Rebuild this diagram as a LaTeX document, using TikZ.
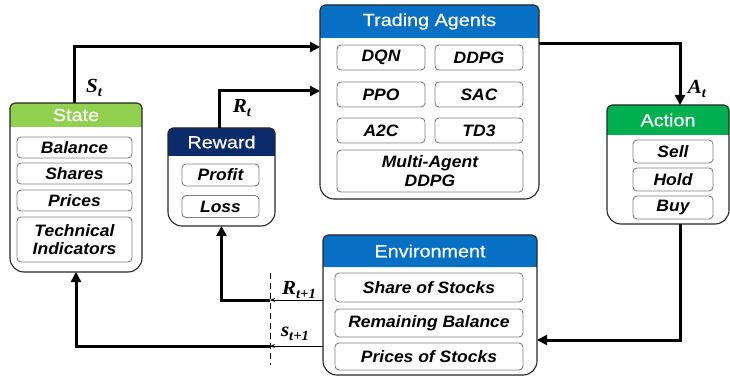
\documentclass[tikz,border=0pt]{standalone}
\usepackage{fontspec}
\usetikzlibrary{arrows.meta}
\newfontfamily\uifont{Liberation Sans}[FakeStretch=1.13,FakeBold=0.5]
\newfontfamily\itemfont{Liberation Sans}[FakeStretch=1.06]
\newfontfamily\labfont{Liberation Serif}[FakeStretch=1.05]
\newcommand{\lab}[2]{{\labfont\bfseries\itshape #1}\raisebox{-4pt}{\labfont\bfseries\itshape\fontsize{14}{14}\selectfont #2}}
\definecolor{stategreen}{HTML}{92D050}
\definecolor{rewardnavy}{HTML}{0B2A6A}
\definecolor{agentblue}{HTML}{0870C4}
\definecolor{actiongreen}{HTML}{00B050}
\newcommand{\mypanel}[8]{%
  \fill[#7,rounded corners=5] (#2,#3) rectangle (#4,#5);
  \fill[#7] (#2,{#5-8}) rectangle (#4,#5);
  \draw[panelline,rounded corners=5] (#2,#5) -- (#2,#3) -- (#4,#3) -- (#4,#5);
  \draw[panelline,rounded corners=14] (#2,#5) -- (#2,#6) -- (#4,#6) -- (#4,#5);
  \node[headtext] (#1-title) at ({(#2+#4)/2},{(#3+#5)/2}) {#8};
  \node[inner sep=0,outer sep=0,minimum width={#4-#2},minimum height={#6-#3}] (#1) at ({(#2+#4)/2},{(#3+#6)/2}) {};
}
\begin{document}
\begin{tikzpicture}[x=1pt,y=-1pt,
  panelline/.style={draw=black!85,line width=1.1pt},
  headtext/.style={text=white,font=\uifont\fontsize{17.5}{19}\selectfont,inner sep=0},
  itembox/.style={draw=black!50,line width=0.9pt,rounded corners=4,inner sep=0,
    font=\itemfont\bfseries\itshape\fontsize{16.5}{18.5}\selectfont,align=center},
  bigarrow/.style={line width=3pt,-{Triangle[length=10pt,width=10pt]}},
  thinarrow/.style={line width=1pt,-{Stealth[length=5pt,width=4pt]}},
  mlabel/.style={inner sep=0,font=\fontsize{20}{22}\selectfont}]
\useasboundingbox (0,0) rectangle (730,379);

% State
\mypanel{state}{10}{103}{142}{127}{272}{stategreen}{State}
\node[itembox,minimum width=115,minimum height=21] (bal) at (74.5,147.5) {Balance};
\node[itembox,minimum width=115,minimum height=21] (sha) at (74.5,173.5) {Shares};
\node[itembox,minimum width=115,minimum height=21] (pri) at (74.5,200.5) {Prices};
\node[itembox,minimum width=115,minimum height=45] (tec) at (74.5,239.5) {Technical\\Indicators};

% Reward
\mypanel{reward}{168}{128}{275}{156}{226}{rewardnavy}{Reward}
\node[itembox,minimum width=77,minimum height=22] (pro) at (220.5,175) {Profit};
\node[itembox,minimum width=77,minimum height=22] (los) at (220.5,206.5) {Loss};

% Trading Agents
\mypanel{agents}{320}{5}{539}{38}{199}{agentblue}{Trading Agents}
\node[itembox,minimum width=88,minimum height=25] (dqn) at (381,57.5) {DQN};
\node[itembox,minimum width=88,minimum height=25] (ddpg) at (479,57.5) {DDPG};
\node[itembox,minimum width=88,minimum height=25] (ppo) at (381,94.5) {PPO};
\node[itembox,minimum width=88,minimum height=25] (sac) at (479,94.5) {SAC};
\node[itembox,minimum width=88,minimum height=25] (a2c) at (381,130.5) {A2C};
\node[itembox,minimum width=88,minimum height=25] (td3) at (479,130.5) {TD3};
\node[itembox,minimum width=186,minimum height=42] (maddpg) at (430,171) {Multi-Agent\\DDPG};

% Action
\mypanel{action}{607}{105}{729}{135}{224}{actiongreen}{Action}
\node[itembox,minimum width=80,minimum height=23] (sell) at (673,151.5) {Sell};
\node[itembox,minimum width=80,minimum height=23] (hold) at (673,179.5) {Hold};
\node[itembox,minimum width=80,minimum height=23] (buy) at (673,207.5) {Buy};

% Environment
\mypanel{env}{323}{235}{537}{267}{375}{agentblue}{Environment}
\node[itembox,minimum width=188,minimum height=29] (sos) at (429,287.5) {Share of Stocks};
\node[itembox,minimum width=188,minimum height=28] (rem) at (429,323) {Remaining Balance};
\node[itembox,minimum width=188,minimum height=27] (pos) at (429,356.5) {Prices of Stocks};

% connectors
\draw[bigarrow] ([xshift=-2pt]state.north) |- ([yshift=55pt]agents.west);
\draw[bigarrow] ([xshift=-2.5pt]reward.north) |- ([yshift=11pt]agents.west);
\draw[bigarrow] ([yshift=58pt]agents.east) -| ([xshift=12pt]action.north);
\draw[bigarrow] ([xshift=12pt]action.south) |- ([yshift=-35pt]env.east);

\coordinate (dTop) at (270,273);
\coordinate (dBot) at (270,365);
\coordinate (dR) at (270,300);
\coordinate (dS) at (270,346);
\draw[dashed,line width=1pt,dash pattern=on 6pt off 4pt] (dTop) -- (dBot);
\draw[thinarrow] (env.west |- dR) -- (dR);
\draw[thinarrow] (env.west |- dS) -- (dS);
\draw[bigarrow] (dR) -| (reward.south);
\draw[bigarrow] (dS) -| (state.south);

% labels
\node[mlabel] (lS) at (94,88) {\lab{S}{t}};
\node[mlabel] (lR) at (242,108) {\lab{R}{t}};
\node[mlabel] (lA) at (697,89) {\lab{A}{t}};
\node[mlabel] (lR1) at (299,290) {\lab{R}{t+1}};
\node[mlabel] (lS1) at (295,334) {\lab{s}{t+1}};
\end{tikzpicture}
\end{document}
